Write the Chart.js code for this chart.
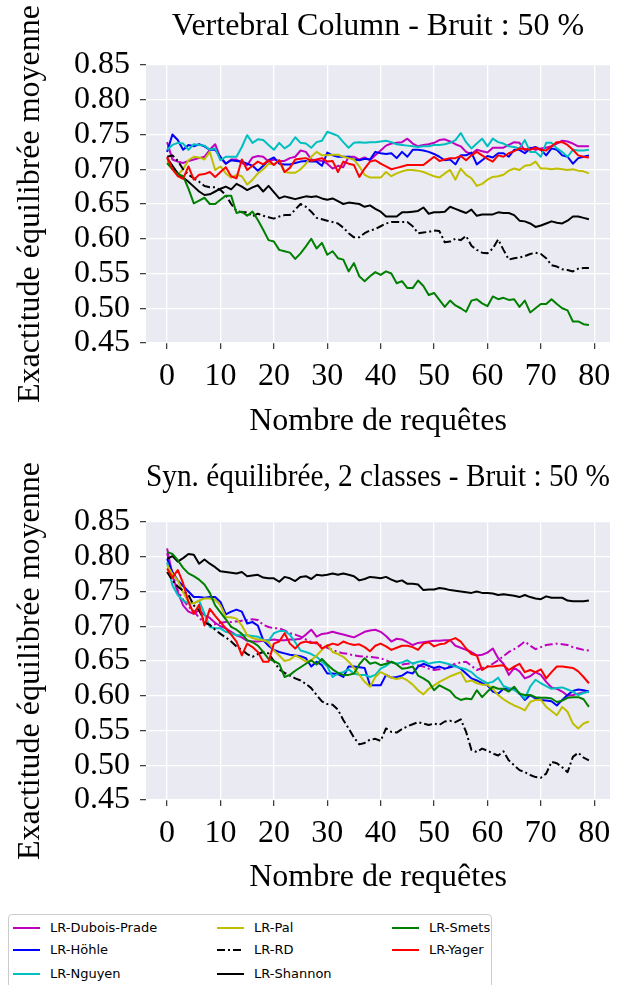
<!DOCTYPE html>
<html>
<head>
<meta charset="utf-8">
<script src="https://cdn.jsdelivr.net/npm/chart.js@4.4.0/dist/chart.umd.min.js"></script>
<style>
  body { margin: 0; width: 644px; height: 985px; overflow: hidden; position: relative; background: #fff; }
  canvas.plot { position: absolute; left: 0; }
  #legend { position: absolute; left: 8px; top: 914px; width: 482px; height: 90px; border: 1px solid #cccccc; border-radius: 4px; background: #fff; }
  .item { position: absolute; height: 16px; font-family: 'DejaVu Sans'; font-size: 13px; line-height: 16px; color: #000; white-space: nowrap; }
  .item svg { position: absolute; left: 0; top: 0; }
  .item span { position: absolute; left: 37px; top: 0; }
</style>
</head>
<body>
<canvas id="topChart" class="plot" width="644" height="450" style="top:0px"></canvas>
<canvas id="bottomChart" class="plot" width="644" height="455" style="top:450px"></canvas>
<div id="legend"></div>
<script>
// Axe des x : nombre de requêtes
const queries = [
  0, 1, 2, 3, 4, 5, 6, 7, 8, 9, 10, 11, 12, 13, 14, 15, 16, 17, 18, 19,
  20, 21, 22, 23, 24, 25, 26, 27, 28, 29, 30, 31, 32, 33, 34, 35, 36, 37, 38, 39,
  40, 41, 42, 43, 44, 45, 46, 47, 48, 49, 50, 51, 52, 53, 54, 55, 56, 57, 58, 59,
  60, 61, 62, 63, 64, 65, 66, 67, 68, 69, 70, 71, 72, 73, 74, 75, 76, 77, 78, 79
];

const seriesNames = ['LR-Dubois-Prade', 'LR-Höhle', 'LR-Nguyen', 'LR-Pal', 'LR-RD', 'LR-Shannon', 'LR-Smets', 'LR-Yager'];
const seriesColors = ['#bf00bf', '#0000ff', '#00bfbf', '#bfbf00', '#000000', '#000000', '#008000', '#ff0000'];
const seriesDashes = [[], [], [], [], [8, 3, 2, 3], [], [], []];

const yTicks = [0.45, 0.50, 0.55, 0.60, 0.65, 0.70, 0.75, 0.80, 0.85];
const xTicks = [0, 10, 20, 30, 40, 50, 60, 70, 80];

// Vertebral Column - Bruit : 50 %
const vcDuboisPrade = [
  0.739, 0.714, 0.711, 0.709, 0.712, 0.714, 0.716, 0.718, 0.728, 0.736,
  0.716, 0.708, 0.714, 0.714, 0.709, 0.706, 0.717, 0.719, 0.718, 0.711,
  0.714, 0.712, 0.712, 0.716, 0.718, 0.727, 0.725, 0.714, 0.713, 0.712,
  0.708, 0.701, 0.705, 0.703, 0.718, 0.718, 0.714, 0.717, 0.713, 0.720,
  0.727, 0.734, 0.737, 0.738, 0.739, 0.744, 0.737, 0.733, 0.735, 0.736,
  0.738, 0.742, 0.743, 0.740, 0.736, 0.733, 0.725, 0.722, 0.728, 0.726,
  0.724, 0.731, 0.731, 0.731, 0.735, 0.739, 0.738, 0.727, 0.731, 0.728,
  0.730, 0.731, 0.733, 0.737, 0.741, 0.740, 0.737, 0.733, 0.733, 0.733
];
const vcHohle = [
  0.725, 0.750, 0.742, 0.728, 0.735, 0.733, 0.736, 0.733, 0.728, 0.728,
  0.718, 0.708, 0.713, 0.712, 0.711, 0.708, 0.705, 0.698, 0.705, 0.713,
  0.717, 0.708, 0.707, 0.707, 0.709, 0.711, 0.712, 0.711, 0.711, 0.705,
  0.724, 0.720, 0.718, 0.718, 0.718, 0.714, 0.713, 0.715, 0.714, 0.725,
  0.723, 0.722, 0.723, 0.716, 0.725, 0.718, 0.728, 0.728, 0.727, 0.725,
  0.722, 0.718, 0.713, 0.714, 0.707, 0.720, 0.720, 0.724, 0.707, 0.713,
  0.719, 0.717, 0.723, 0.723, 0.718, 0.728, 0.728, 0.723, 0.730, 0.732,
  0.728, 0.720, 0.730, 0.728, 0.720, 0.718, 0.708, 0.716, 0.718, 0.720
];
const vcNguyen = [
  0.728, 0.735, 0.738, 0.737, 0.728, 0.736, 0.735, 0.734, 0.728, 0.730,
  0.713, 0.718, 0.718, 0.718, 0.732, 0.749, 0.738, 0.743, 0.742, 0.735,
  0.728, 0.738, 0.730, 0.735, 0.746, 0.738, 0.737, 0.731, 0.739, 0.741,
  0.754, 0.751, 0.748, 0.739, 0.731, 0.738, 0.739, 0.738, 0.739, 0.739,
  0.740, 0.741, 0.739, 0.736, 0.735, 0.734, 0.733, 0.732, 0.733, 0.733,
  0.735, 0.735, 0.736, 0.738, 0.742, 0.752, 0.739, 0.730, 0.737, 0.744,
  0.733, 0.744, 0.739, 0.737, 0.733, 0.732, 0.730, 0.742, 0.725, 0.725,
  0.718, 0.738, 0.738, 0.730, 0.725, 0.718, 0.728, 0.727, 0.727, 0.728
];
const vcPal = [
  0.712, 0.703, 0.692, 0.700, 0.713, 0.718, 0.717, 0.714, 0.725, 0.699,
  0.704, 0.694, 0.688, 0.692, 0.690, 0.678, 0.685, 0.694, 0.700, 0.708,
  0.707, 0.713, 0.696, 0.695, 0.695, 0.700, 0.708, 0.718, 0.725, 0.720,
  0.720, 0.721, 0.721, 0.718, 0.716, 0.714, 0.704, 0.692, 0.688, 0.688,
  0.688, 0.696, 0.690, 0.694, 0.697, 0.699, 0.699, 0.698, 0.696, 0.693,
  0.690, 0.688, 0.694, 0.699, 0.685, 0.701, 0.692, 0.687, 0.676, 0.679,
  0.685, 0.689, 0.690, 0.692, 0.698, 0.701, 0.699, 0.705, 0.706, 0.711,
  0.701, 0.701, 0.700, 0.701, 0.700, 0.699, 0.700, 0.698, 0.697, 0.694
];
const vcRD = [
  0.718, 0.720, 0.712, 0.700, 0.692, 0.687, 0.682, 0.676, 0.674, 0.674,
  0.670, 0.663, 0.650, 0.640, 0.638, 0.638, 0.632, 0.636, 0.633, 0.631,
  0.629, 0.632, 0.634, 0.634, 0.642, 0.650, 0.646, 0.639, 0.630, 0.628,
  0.626, 0.624, 0.622, 0.616, 0.608, 0.602, 0.602, 0.608, 0.612, 0.614,
  0.618, 0.622, 0.624, 0.624, 0.624, 0.624, 0.618, 0.608, 0.609, 0.610,
  0.612, 0.611, 0.595, 0.596, 0.600, 0.598, 0.604, 0.590, 0.584, 0.580,
  0.579, 0.586, 0.599, 0.584, 0.570, 0.572, 0.573, 0.575, 0.578, 0.580,
  0.578, 0.572, 0.562, 0.560, 0.556, 0.555, 0.553, 0.557, 0.558, 0.558
];
const vcShannon = [
  0.716, 0.705, 0.694, 0.688, 0.682, 0.675, 0.668, 0.663, 0.664, 0.668,
  0.672, 0.675, 0.671, 0.679, 0.675, 0.670, 0.674, 0.677, 0.668, 0.676,
  0.667, 0.658, 0.661, 0.659, 0.657, 0.659, 0.661, 0.660, 0.661, 0.658,
  0.656, 0.658, 0.654, 0.650, 0.652, 0.651, 0.650, 0.646, 0.648, 0.643,
  0.639, 0.632, 0.632, 0.632, 0.638, 0.638, 0.639, 0.640, 0.645, 0.636,
  0.638, 0.638, 0.639, 0.646, 0.643, 0.640, 0.637, 0.642, 0.633, 0.635,
  0.635, 0.635, 0.638, 0.637, 0.637, 0.634, 0.626, 0.625, 0.622, 0.617,
  0.619, 0.622, 0.625, 0.623, 0.622, 0.626, 0.632, 0.632, 0.630, 0.628
];
const vcSmets = [
  0.709, 0.700, 0.693, 0.690, 0.672, 0.651, 0.655, 0.659, 0.650, 0.650,
  0.656, 0.662, 0.662, 0.637, 0.639, 0.633, 0.639, 0.627, 0.613, 0.598,
  0.596, 0.584, 0.582, 0.580, 0.571, 0.579, 0.589, 0.600, 0.586, 0.594,
  0.577, 0.582, 0.572, 0.570, 0.553, 0.565, 0.546, 0.539, 0.546, 0.552,
  0.548, 0.553, 0.550, 0.536, 0.539, 0.529, 0.529, 0.540, 0.532, 0.519,
  0.522, 0.512, 0.502, 0.511, 0.504, 0.500, 0.495, 0.511, 0.513, 0.507,
  0.503, 0.517, 0.513, 0.515, 0.512, 0.513, 0.502, 0.511, 0.494, 0.500,
  0.506, 0.506, 0.513, 0.506, 0.500, 0.497, 0.481, 0.481, 0.477, 0.476
];
const vcYager = [
  0.718, 0.700, 0.690, 0.686, 0.704, 0.685, 0.692, 0.693, 0.696, 0.689,
  0.696, 0.703, 0.690, 0.687, 0.714, 0.699, 0.705, 0.711, 0.707, 0.713,
  0.706, 0.713, 0.696, 0.702, 0.714, 0.715, 0.716, 0.712, 0.714, 0.716,
  0.711, 0.712, 0.696, 0.711, 0.708, 0.706, 0.689, 0.701, 0.711, 0.713,
  0.708, 0.704, 0.700, 0.702, 0.704, 0.706, 0.706, 0.706, 0.706, 0.712,
  0.718, 0.712, 0.714, 0.716, 0.716, 0.719, 0.713, 0.720, 0.725, 0.720,
  0.715, 0.711, 0.720, 0.718, 0.723, 0.726, 0.730, 0.729, 0.728, 0.731,
  0.728, 0.727, 0.733, 0.739, 0.739, 0.735, 0.728, 0.720, 0.718, 0.717
];

// Syn. équilibrée, 2 classes - Bruit : 50 %
const synDuboisPrade = [
  0.812, 0.773, 0.749, 0.730, 0.721, 0.718, 0.723, 0.716, 0.712, 0.705,
  0.700, 0.697, 0.692, 0.687, 0.684, 0.679, 0.678, 0.678, 0.679, 0.680,
  0.681, 0.680, 0.680, 0.681, 0.681, 0.682, 0.688, 0.695, 0.685, 0.689,
  0.690, 0.692, 0.690, 0.688, 0.686, 0.684, 0.688, 0.692, 0.694, 0.695,
  0.692, 0.686, 0.678, 0.682, 0.681, 0.677, 0.673, 0.676, 0.677, 0.678,
  0.679, 0.679, 0.680, 0.680, 0.672, 0.669, 0.666, 0.663, 0.658, 0.659,
  0.662, 0.668, 0.654, 0.646, 0.630, 0.640, 0.635, 0.625, 0.628, 0.634,
  0.630, 0.620, 0.612, 0.610, 0.606, 0.600, 0.601, 0.603, 0.605, 0.606
];
// courbe magenta en tirets-points (hors légende)
const synDuboisPradeDash = [
  0.805, 0.775, 0.752, 0.738, 0.728, 0.722, 0.712, 0.705, 0.702, 0.703,
  0.705, 0.706, 0.706, 0.707, 0.708, 0.709, 0.710, 0.709, 0.702, 0.699,
  0.697, 0.697, 0.694, 0.690, 0.688, 0.685, 0.681, 0.677, 0.675, 0.672,
  0.669, 0.666, 0.663, 0.661, 0.660, 0.658, 0.657, 0.656, 0.656, 0.655,
  0.654, 0.651, 0.648, 0.646, 0.645, 0.646, 0.647, 0.644, 0.642, 0.639,
  0.637, 0.638, 0.639, 0.643, 0.646, 0.648, 0.649, 0.643, 0.637, 0.640,
  0.642, 0.646, 0.651, 0.657, 0.663, 0.667, 0.672, 0.678, 0.672, 0.667,
  0.670, 0.673, 0.674, 0.675, 0.674, 0.673, 0.670, 0.668, 0.666, 0.665
];
const synHohle = [
  0.797, 0.778, 0.766, 0.758, 0.750, 0.742, 0.742, 0.741, 0.742, 0.742,
  0.735, 0.717, 0.721, 0.724, 0.721, 0.704, 0.706, 0.701, 0.680, 0.672,
  0.666, 0.663, 0.661, 0.659, 0.658, 0.657, 0.654, 0.642, 0.649, 0.644,
  0.632, 0.632, 0.631, 0.627, 0.642, 0.642, 0.641, 0.640, 0.615, 0.615,
  0.615, 0.630, 0.626, 0.627, 0.629, 0.634, 0.632, 0.642, 0.646, 0.643,
  0.640, 0.642, 0.639, 0.641, 0.643, 0.639, 0.632, 0.625, 0.622, 0.618,
  0.615, 0.606, 0.603, 0.610, 0.610, 0.610, 0.603, 0.594, 0.601, 0.596,
  0.594, 0.593, 0.592, 0.586, 0.594, 0.601, 0.607, 0.609, 0.608, 0.606
];
const synNguyen = [
  0.792, 0.759, 0.745, 0.737, 0.733, 0.733, 0.737, 0.718, 0.699, 0.697,
  0.697, 0.692, 0.690, 0.687, 0.687, 0.687, 0.686, 0.685, 0.680, 0.679,
  0.690, 0.693, 0.693, 0.688, 0.677, 0.665, 0.663, 0.660, 0.656, 0.649,
  0.642, 0.627, 0.632, 0.634, 0.638, 0.632, 0.630, 0.630, 0.627, 0.630,
  0.639, 0.643, 0.649, 0.646, 0.648, 0.651, 0.646, 0.649, 0.650, 0.646,
  0.648, 0.649, 0.647, 0.645, 0.642, 0.640, 0.638, 0.634, 0.627, 0.622,
  0.618, 0.620, 0.626, 0.614, 0.611, 0.608, 0.604, 0.596, 0.613, 0.623,
  0.618, 0.614, 0.610, 0.611, 0.612, 0.609, 0.606, 0.601, 0.604, 0.606
];
const synPal = [
  0.788, 0.775, 0.766, 0.749, 0.735, 0.733, 0.737, 0.740, 0.740, 0.738,
  0.730, 0.713, 0.713, 0.711, 0.701, 0.687, 0.683, 0.681, 0.680, 0.677,
  0.665, 0.658, 0.650, 0.652, 0.658, 0.654, 0.649, 0.651, 0.658, 0.666,
  0.673, 0.663, 0.660, 0.656, 0.649, 0.640, 0.630, 0.620, 0.613, 0.627,
  0.634, 0.630, 0.626, 0.624, 0.626, 0.622, 0.616, 0.608, 0.602, 0.610,
  0.615, 0.620, 0.624, 0.628, 0.631, 0.634, 0.620, 0.622, 0.618, 0.616,
  0.616, 0.610, 0.601, 0.595, 0.590, 0.586, 0.583, 0.579, 0.591, 0.594,
  0.594, 0.584, 0.578, 0.572, 0.584, 0.577, 0.560, 0.553, 0.560, 0.563
];
const synRD = [
  0.778, 0.766, 0.757, 0.751, 0.745, 0.730, 0.723, 0.706, 0.702, 0.695,
  0.689, 0.684, 0.678, 0.671, 0.666, 0.660, 0.656, 0.660, 0.663, 0.661,
  0.650, 0.638, 0.633, 0.629, 0.625, 0.622, 0.617, 0.611, 0.601, 0.592,
  0.588, 0.587, 0.580, 0.565, 0.553, 0.540, 0.530, 0.532, 0.537, 0.538,
  0.535, 0.553, 0.548, 0.547, 0.552, 0.556, 0.559, 0.562, 0.560, 0.558,
  0.560, 0.558, 0.563, 0.564, 0.562, 0.566, 0.548, 0.522, 0.519, 0.524,
  0.521, 0.517, 0.514, 0.520, 0.507, 0.500, 0.493, 0.490, 0.486, 0.483,
  0.482, 0.488, 0.505, 0.503, 0.497, 0.490, 0.512, 0.518, 0.511, 0.507
];
const synShannon = [
  0.797, 0.801, 0.793, 0.798, 0.804, 0.803, 0.790, 0.796, 0.790, 0.785,
  0.779, 0.778, 0.777, 0.776, 0.778, 0.772, 0.773, 0.774, 0.770, 0.769,
  0.769, 0.764, 0.771, 0.769, 0.765, 0.771, 0.772, 0.768, 0.774, 0.773,
  0.774, 0.776, 0.774, 0.776, 0.774, 0.772, 0.766, 0.768, 0.771, 0.770,
  0.769, 0.771, 0.767, 0.764, 0.766, 0.761, 0.761, 0.760, 0.752, 0.753,
  0.753, 0.755, 0.754, 0.752, 0.751, 0.750, 0.749, 0.748, 0.750, 0.748,
  0.748, 0.747, 0.745, 0.746, 0.745, 0.744, 0.742, 0.745, 0.742, 0.740,
  0.739, 0.743, 0.741, 0.741, 0.741, 0.737, 0.736, 0.736, 0.736, 0.737
];
const synSmets = [
  0.807, 0.804, 0.795, 0.784, 0.776, 0.772, 0.767, 0.760, 0.748, 0.730,
  0.720, 0.710, 0.699, 0.695, 0.689, 0.680, 0.677, 0.672, 0.663, 0.653,
  0.650, 0.646, 0.627, 0.630, 0.636, 0.641, 0.646, 0.651, 0.645, 0.653,
  0.645, 0.638, 0.633, 0.630, 0.630, 0.632, 0.645, 0.654, 0.646, 0.648,
  0.644, 0.646, 0.649, 0.645, 0.639, 0.640, 0.642, 0.629, 0.625, 0.620,
  0.608, 0.615, 0.611, 0.607, 0.598, 0.594, 0.596, 0.595, 0.608, 0.598,
  0.606, 0.613, 0.610, 0.610, 0.606, 0.613, 0.603, 0.601, 0.601, 0.598,
  0.597, 0.597, 0.596, 0.591, 0.593, 0.597, 0.598, 0.598, 0.595, 0.584
];
const synYager = [
  0.783, 0.770, 0.781, 0.762, 0.735, 0.718, 0.731, 0.701, 0.725, 0.715,
  0.706, 0.697, 0.688, 0.678, 0.658, 0.675, 0.670, 0.663, 0.649, 0.649,
  0.675, 0.678, 0.690, 0.675, 0.668, 0.676, 0.678, 0.676, 0.677, 0.668,
  0.672, 0.675, 0.673, 0.678, 0.675, 0.673, 0.674, 0.670, 0.664, 0.672,
  0.675, 0.671, 0.666, 0.669, 0.672, 0.672, 0.670, 0.666, 0.675, 0.677,
  0.671, 0.674, 0.675, 0.680, 0.683, 0.678, 0.668, 0.660, 0.658, 0.637,
  0.642, 0.642, 0.643, 0.644, 0.637, 0.642, 0.646, 0.634, 0.637, 0.634,
  0.638, 0.625, 0.634, 0.642, 0.642, 0.641, 0.640, 0.635, 0.627, 0.618
];

const serif = 'Liberation Serif';

// fond gris du graphique (style seaborn)
const plotBackground = {
  id: 'plotBackground',
  beforeDraw(chart) {
    const { ctx, chartArea } = chart;
    ctx.save();
    ctx.fillStyle = '#eaeaf2';
    ctx.fillRect(chartArea.left, chartArea.top, chartArea.right - chartArea.left, chartArea.bottom - chartArea.top);
    ctx.restore();
  }
};

const makeDataset = (values, color, dash, order) => ({
  data: values,
  borderColor: color,
  borderWidth: 2,
  borderDash: dash,
  borderJoinStyle: 'round',
  pointRadius: 0,
  tension: 0,
  fill: false,
  order: order
});

const buildChart = (canvasId, titleText, datasets, layout) => {
  const ctx = document.getElementById(canvasId);
  return new Chart(ctx, {
    type: 'line',
    data: { labels: queries, datasets: datasets },
    plugins: [plotBackground],
    options: {
      responsive: false,
      animation: false,
      layout: { padding: { left: 0, right: 34, top: 0, bottom: 0 } },
      plugins: {
        legend: { display: false },
        tooltip: { enabled: false },
        title: {
          display: true,
          fullSize: false,
          text: titleText,
          color: '#000',
          font: { family: serif, size: 32, weight: 'normal' },
          padding: { top: layout.titleTop, bottom: layout.titleBottom }
        }
      },
      scales: {
        x: {
          type: 'linear',
          min: -3.95,
          max: 82.95,
          afterFit: (scale) => { scale.height = layout.xHeight; },
          afterBuildTicks: (scale) => { scale.ticks = xTicks.map(v => ({ value: v })); },
          ticks: {
            stepSize: 10,
            includeBounds: false,
            autoSkip: false,
            maxRotation: 0,
            color: '#000',
            padding: 8,
            font: { family: serif, size: 32 },
            callback: (v) => String(v)
          },
          grid: { color: '#ffffff', lineWidth: 1.3, tickColor: '#333333', tickLength: 6, tickWidth: 1.2 },
          border: { display: false },
          title: {
            display: true,
            text: 'Nombre de requêtes',
            color: '#000',
            font: { family: serif, size: 32 },
            padding: { top: 0, bottom: layout.xTitleBottom }
          }
        },
        y: {
          min: 0.45,
          max: 0.85,
          afterFit: (scale) => { scale.width = 146; },
          afterBuildTicks: (scale) => { scale.ticks = yTicks.map(v => ({ value: v })); },
          ticks: {
            stepSize: 0.05,
            autoSkip: false,
            color: '#000',
            padding: 10,
            font: { family: serif, size: 32 },
            callback: (v) => v.toFixed(2)
          },
          grid: { color: '#ffffff', lineWidth: 1.3, tickColor: '#333333', tickLength: 6, tickWidth: 1.2 },
          border: { display: false },
          title: {
            display: true,
            text: 'Exactitude équilibrée moyenne',
            color: '#000',
            font: { family: serif, size: 32 },
            padding: { top: 11, bottom: 0 }
          }
        }
      }
    }
  });
};

const topSeries = [vcDuboisPrade, vcHohle, vcNguyen, vcPal, vcRD, vcShannon, vcSmets, vcYager];
const bottomSeries = [synDuboisPrade, synHohle, synNguyen, synPal, synRD, synShannon, synSmets, synYager];

const toDatasets = (series) =>
  series.map((values, i) => makeDataset(values, seriesColors[i], seriesDashes[i], series.length - i));

const bottomDatasets = toDatasets(bottomSeries);
bottomDatasets.push(makeDataset(synDuboisPradeDash, '#bf00bf', [8, 3, 2, 3], 20));

buildChart('topChart', 'Vertebral Column - Bruit : 50 %', toDatasets(topSeries),
  { titleTop: 7, titleBottom: 19.6, xHeight: 107, xTitleBottom: 8.8 });
buildChart('bottomChart', 'Syn. équilibrée, 2 classes - Bruit : 50 %', bottomDatasets,
  { titleTop: 8.8, titleBottom: 24.8, xHeight: 105, xTitleBottom: 7.8 });

// Légende commune
const legendBox = document.getElementById('legend');
const colX = [4, 208, 383];
const rowY = [5, 27, 51];
seriesNames.forEach((name, i) => {
  const item = document.createElement('div');
  item.className = 'item';
  item.style.left = colX[Math.floor(i / 3)] + 'px';
  item.style.top = rowY[i % 3] + 'px';
  const dash = seriesDashes[i].length ? `stroke-dasharray="${seriesDashes[i].join(',')}"` : '';
  item.innerHTML =
    `<svg width="28" height="16"><line x1="0" y1="8" x2="27" y2="8" stroke="${seriesColors[i]}" stroke-width="2" ${dash}/></svg>` +
    `<span>${name}</span>`;
  legendBox.appendChild(item);
});
</script>
</body>
</html>
